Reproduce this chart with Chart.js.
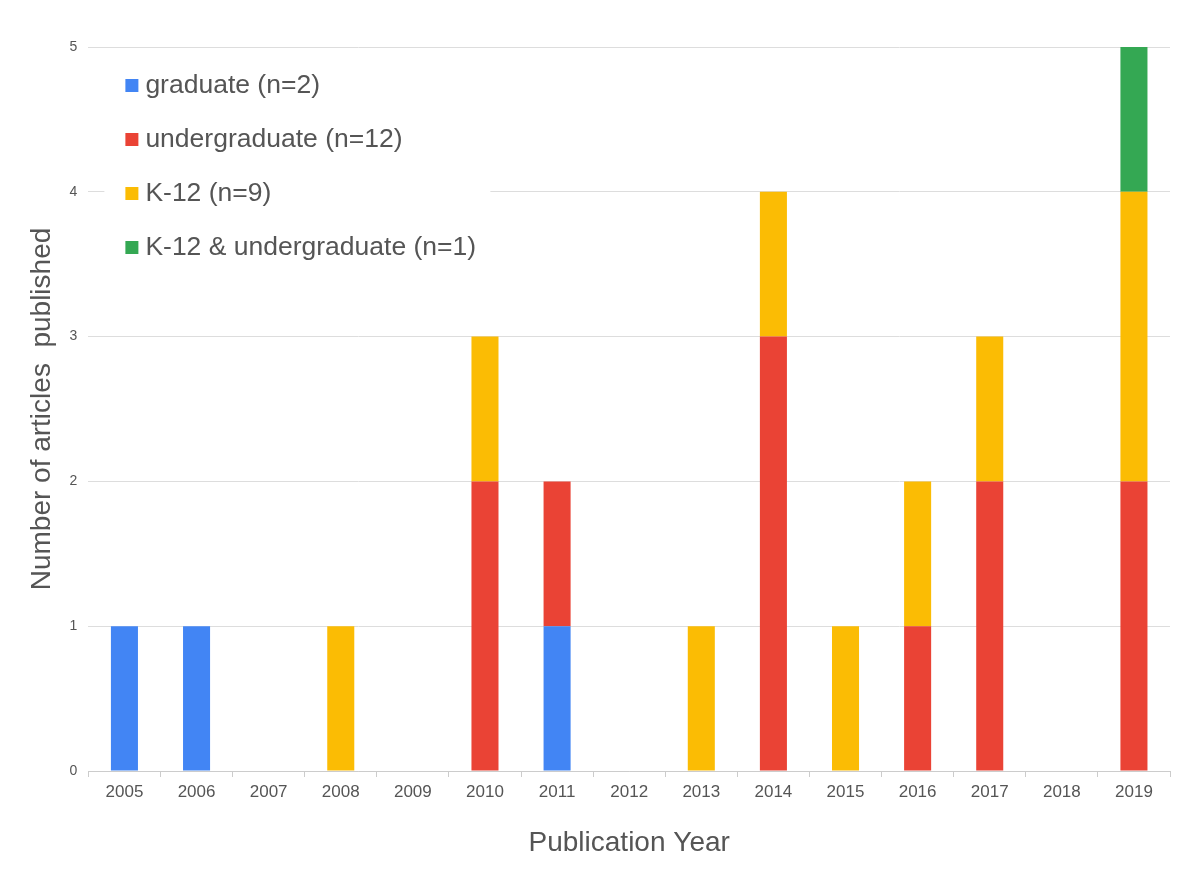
<!DOCTYPE html>
<html>
<head>
<meta charset="utf-8">
<script src="https://cdn.jsdelivr.net/npm/chart.js@4"></script>
<style>
  html, body { margin:0; padding:0; background:#fff; }
  #wrap { width:1200px; height:870px; }
</style>
</head>
<body>
<div id="wrap"><canvas id="chart"></canvas></div>
<script>
const YEARS = ['2005','2006','2007','2008','2009','2010','2011','2012','2013','2014','2015','2016','2017','2018','2019'];
const GRADUATE      = [1,1,0,0,0,0,1,0,0,0,0,0,0,0,0];
const UNDERGRADUATE = [0,0,0,0,0,2,1,0,0,3,0,1,2,0,2];
const K12           = [0,0,0,1,0,1,0,0,1,1,1,1,1,0,2];
const K12_UNDERGRAD = [0,0,0,0,0,0,0,0,0,0,0,0,0,0,1];
const SERIES_LABELS = ['graduate (n=2)','undergraduate (n=12)','K-12 (n=9)','K-12 & undergraduate (n=1)'];
const COLORS = ['#4285F4','#EA4335','#FBBC04','#34A853'];
const FONT = "Arial, 'Liberation Sans', sans-serif";
const TEXT = '#555555';

// legend floats inside the plot, white box over the gridlines
const innerLegend = {
  id: 'innerLegend',
  afterDatasetsDraw(chart){
    const ctx = chart.ctx;
    const a = chart.chartArea;
    const x0 = a.left + 16, y0 = a.top + 20;
    ctx.save();
    ctx.fillStyle = '#fff';
    ctx.fillRect(x0, y0, 386, 232);
    ctx.font = '26.5px ' + FONT;
    ctx.textBaseline = 'middle';
    chart.data.datasets.forEach((ds, i) => {
      const y = a.top + 38 + i * 54;
      ctx.fillStyle = ds.backgroundColor;
      ctx.fillRect(a.left + 37, y - 6, 13, 13);
      ctx.fillStyle = TEXT;
      ctx.fillText(ds.label, a.left + 57, y + 1);
    });
    ctx.restore();
  }
};

const series = [GRADUATE, UNDERGRADUATE, K12, K12_UNDERGRAD];

new Chart(document.getElementById('chart'), {
  type: 'bar',
  data: {
    labels: YEARS,
    datasets: series.map((d, i) => ({
      label: SERIES_LABELS[i],
      data: d,
      backgroundColor: COLORS[i],
      borderWidth: 0,
      categoryPercentage: 1,
      barPercentage: 0.375
    }))
  },
  options: {
    responsive: true,
    maintainAspectRatio: false,
    animation: false,
    layout: { padding: { top: 47, right: 30, bottom: 10, left: 25 } },
    plugins: { legend: { display: false }, tooltip: { enabled: false } },
    scales: {
      x: {
        stacked: true,
        grid: { offset: true, drawOnChartArea: false, drawTicks: true, tickLength: 6, color: '#cccccc' },
        border: { color: '#cccccc', width: 1 },
        ticks: { color: TEXT, font: { size: 17, family: FONT }, padding: 5 },
        title: { display: true, text: 'Publication Year', color: TEXT, font: { size: 28, family: FONT }, padding: { top: 19, bottom: 0 } }
      },
      y: {
        stacked: true,
        min: 0, max: 5,
        grid: { color: '#dddddd', drawTicks: false },
        border: { display: false },
        ticks: { stepSize: 1, color: TEXT, font: { size: 14, family: FONT }, padding: 11 },
        title: { display: true, text: 'Number of articles  published', color: TEXT, font: { size: 28, family: FONT }, padding: { top: 0, bottom: 0 } }
      }
    }
  },
  plugins: [innerLegend]
});
</script>
</body>
</html>
